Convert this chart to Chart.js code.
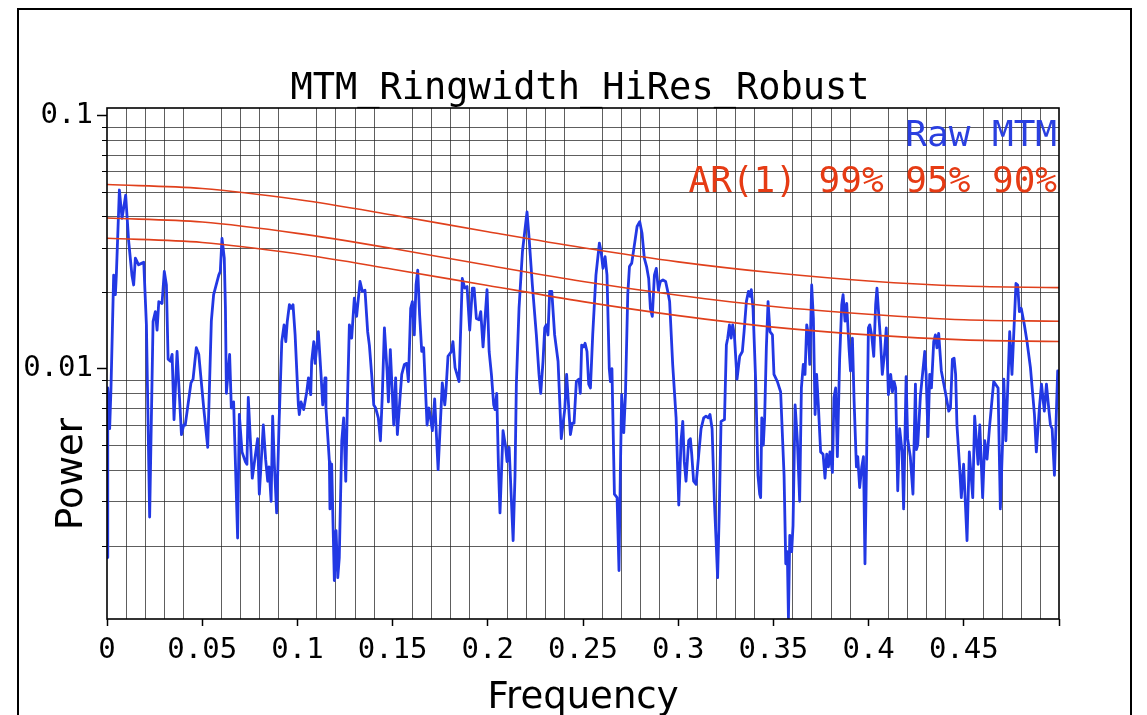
<!DOCTYPE html>
<html><head><meta charset="utf-8">
<script src="https://cdn.jsdelivr.net/npm/chart.js@4.4.1/dist/chart.umd.min.js"></script>
<style>html,body{margin:0;padding:0;background:#fff;overflow:hidden}#wrap{width:1147px;height:715px;position:relative}</style>
</head><body><div id="wrap"><canvas id="c"></canvas></div>
<script>
const chartTitle = 'MTM_Ringwidth_HiRes_Robust';
const xAxisTitle = 'Frequency';
const yAxisTitle = 'Power';
const legendBlue = 'Raw MTM';
const legendRed = 'AR(1) 99% 95% 90%';

const freq = [
0.0000,0.0004,0.0014,0.0021,0.0035,0.0044,0.0049,0.0065,0.0079,0.0098,0.0114,0.0131,0.0140,0.0149,0.0166,0.0184,0.0193,0.0207,0.0224,0.0242,
0.0254,0.0263,0.0272,0.0289,0.0301,0.0312,0.0321,0.0333,0.0342,0.0352,0.0368,0.0391,0.0403,0.0411,0.0441,0.0452,0.0469,0.0482,0.0508,0.0529,
0.0548,0.0560,0.0587,0.0595,0.0604,0.0616,0.0622,0.0627,0.0644,0.0653,0.0665,0.0686,0.0695,0.0709,0.0727,0.0735,0.0742,0.0763,0.0791,0.0800,
0.0821,0.0833,0.0844,0.0851,0.0862,0.0870,0.0879,0.0891,0.0904,0.0918,0.0930,0.0939,0.0947,0.0958,0.0967,0.0977,0.0988,0.1005,0.1010,0.1019,
0.1033,0.1049,0.1058,0.1070,0.1075,0.1086,0.1093,0.1110,0.1124,0.1133,0.1145,0.1150,0.1168,0.1171,0.1180,0.1194,0.1203,0.1212,0.1220,0.1233,
0.1243,0.1254,0.1264,0.1273,0.1285,0.1299,0.1311,0.1329,0.1341,0.1355,0.1369,0.1378,0.1390,0.1401,0.1411,0.1425,0.1436,0.1446,0.1457,0.1471,
0.1478,0.1488,0.1506,0.1516,0.1525,0.1539,0.1548,0.1562,0.1574,0.1583,0.1595,0.1604,0.1614,0.1623,0.1632,0.1642,0.1653,
0.1663,0.1681,0.1691,0.1709,0.1721,0.1739,0.1761,0.1774,0.1779,0.1791,0.1809,0.1817,0.1828,0.1849,0.1866,0.1879,0.1891,0.1905,0.1919,0.1928,
0.1940,0.1954,0.1963,0.1975,0.1996,0.2007,0.2019,0.2031,0.2038,0.2047,0.2056,0.2064,0.2080,0.2094,0.2101,0.2112,0.2133,0.2143,0.2150,0.2164,
0.2182,0.2206,0.2217,0.2234,0.2255,0.2269,0.2278,0.2290,0.2299,0.2307,0.2316,0.2325,0.2336,0.2351,0.2369,0.2386,0.2404,0.2414,0.2434,0.2444,
0.2453,0.2465,0.2479,0.2486,0.2493,
0.2504,0.2511,0.2521,0.2530,0.2539,0.2551,0.2568,0.2586,0.2595,0.2605,0.2616,0.2626,0.2638,0.2644,0.2652,0.2665,0.2679,0.2689,0.2696,0.2703,
0.2714,0.2723,0.2735,0.2744,0.2756,0.2770,0.2784,0.2798,0.2810,0.2822,0.2834,0.2845,0.2854,0.2864,0.2875,0.2885,0.2896,0.2906,0.2920,0.2934,
0.2945,0.2955,0.2971,0.2989,0.3003,0.3015,0.3024,0.3032,0.3041,0.3055,0.3064,0.3071,0.3081,0.3094,0.3102,0.3120,0.3134,0.3146,0.3158,0.3167,
0.3178,0.3190,0.3199,0.3207,0.3216,0.3225,0.3243,0.3253,0.3260,0.3269,0.3278,0.3286,0.3295,0.3309,
0.3323,0.3337,0.3346,0.3358,0.3369,0.3377,0.3384,0.3393,0.3407,0.3419,0.3428,0.3433,0.3439,0.3447,0.3454,0.3463,0.3472,0.3482,0.3495,0.3503,
0.3521,0.3538,0.3556,0.3565,0.3573,0.3579,0.3586,0.3596,0.3603,0.3614,0.3626,0.3638,0.3647,0.3657,0.3666,0.3675,0.3684,0.3691,0.3701,0.3710,
0.3719,0.3727,0.3736,0.3748,0.3761,0.3771,0.3780,0.3789,0.3797,0.3810,0.3818,0.3827,0.3836,0.3848,0.3859,0.3866,0.3876,0.3885,0.3897,0.3905,
0.3915,0.3924,0.3936,0.3943,0.3953,0.3964,0.3973,0.3981,0.3990,0.3999,0.4006,0.4016,0.4027,0.4037,0.4044,0.4051,0.4062,0.4072,0.4083,0.4093,
0.4104,0.4116,0.4125,0.4134,0.4142,0.4153,
0.4163,0.4176,0.4184,0.4197,0.4205,0.4219,0.4233,0.4246,0.4251,0.4258,0.4272,0.4295,0.4302,0.4312,0.4321,0.4330,0.4342,0.4351,0.4359,0.4368,
0.4382,0.4403,0.4421,0.4430,0.4440,0.4449,0.4457,0.4464,0.4478,0.4487,0.4499,0.4517,0.4529,0.4547,0.4557,0.4575,0.4584,0.4599,0.4610,0.4622,
0.4636,0.4657,0.4680,0.4692,0.4704,0.4710,0.4721,0.4741,0.4753,0.4774,0.4783,0.4792,0.4802,0.4818,0.4832,0.4850,0.4871,0.4881,0.4897,0.4908,
0.4923,0.4934,0.4946,0.4955,0.4964,0.4976,0.4993,0.5000
];
const power = [
0.0018,0.0084,0.0058,0.0084,0.0234,0.0196,0.0234,0.0507,0.0392,0.0484,0.0317,0.0234,0.0214,0.0273,0.0257,0.0261,0.0263,0.0149,0.0026,0.0154,
0.0168,0.0142,0.0184,0.0181,0.0242,0.0214,0.0109,0.0107,0.0114,0.0063,0.0117,0.0055,0.0060,0.0060,0.0088,0.0091,0.0121,0.0114,0.0070,0.0049,
0.0154,0.0196,0.0234,0.0242,0.0327,0.0273,0.0173,0.0080,0.0114,0.0070,0.0074,0.00215,0.0066,0.0047,0.0043,0.0042,0.0077,0.0037,0.0053,0.0032,
0.0060,0.0044,0.0036,0.0041,0.0030,0.0065,0.0042,0.0027,0.0062,0.0128,0.0149,0.0128,0.0154,0.0179,0.0173,0.0179,0.0136,0.0072,0.0066,0.0074,
0.0069,0.0081,0.0092,0.0079,0.0107,0.0128,0.0105,0.0140,0.0095,0.0072,0.0092,0.0070,0.0043,0.0028,0.0042,0.00146,0.0023,0.0015,0.0018,0.0052,
0.0064,0.0036,0.0081,0.0149,0.0132,0.0190,0.0161,0.0221,0.0202,0.0204,0.0140,0.0124,0.0095,0.0072,0.0070,0.0064,0.0052,0.0079,0.0145,0.0098,
0.0074,0.0119,0.0060,0.0092,0.0055,0.0077,0.0095,0.0104,0.0105,0.0089,0.0173,0.0184,0.0136,0.0214,0.0245,0.0163,0.0117,
0.0121,0.0060,0.0070,0.0057,0.0076,0.0040,0.0088,0.0072,0.0079,0.0112,0.0117,0.0128,0.0101,0.0089,0.0227,0.0208,0.0211,0.0142,0.0208,0.0208,
0.0158,0.0156,0.0168,0.0122,0.0205,0.0117,0.0095,0.0072,0.0069,0.0080,0.0041,0.0027,0.0057,0.0049,0.0043,0.0049,0.0021,0.0038,0.0087,0.0173,
0.0290,0.0416,0.0327,0.0214,0.0136,0.0095,0.0080,0.0107,0.0145,0.0149,0.0136,0.0202,0.0202,0.0136,0.0107,0.0053,0.0069,0.0095,0.0055,0.0061,
0.0061,0.0089,0.0091,0.0080,0.0124,
0.0122,0.0126,0.0117,0.0087,0.0084,0.0136,0.0234,0.0313,0.0290,0.0249,0.0277,0.0234,0.0100,0.0089,0.0100,0.0032,0.0031,0.0016,0.0038,0.0079,
0.0056,0.0079,0.0196,0.0253,0.0261,0.0308,0.0364,0.0380,0.0342,0.0273,0.0253,0.0227,0.0173,0.0161,0.0234,0.0249,0.0204,0.0221,0.0224,0.0221,
0.0202,0.0184,0.0104,0.0064,0.0029,0.0052,0.0062,0.0043,0.0036,0.0052,0.0053,0.0046,0.0036,0.0035,0.0041,0.0058,0.0064,0.0065,0.0064,0.0066,
0.0058,0.0030,0.0021,0.0015,0.0028,0.0062,0.0063,0.0124,0.0132,0.0149,0.0132,0.0149,0.0136,0.0091,
0.0112,0.0117,0.0140,0.0184,0.0202,0.0193,0.0205,0.0173,0.0089,0.0038,0.0032,0.0031,0.0064,0.0050,0.0064,0.0121,0.0184,0.0140,0.0136,0.0095,
0.0089,0.0081,0.0038,0.0017,0.0019,0.00104,0.0022,0.0019,0.0024,0.0072,0.0052,0.0030,0.0084,0.0104,0.0095,0.0149,0.0136,0.0104,0.0214,0.0158,
0.0066,0.0095,0.0072,0.0047,0.0046,0.0037,0.0046,0.0041,0.0047,0.0039,0.0077,0.0084,0.0045,0.0110,0.0179,0.0196,0.0154,0.0181,0.0121,0.0098,
0.0132,0.0074,0.0041,0.0045,0.0034,0.0041,0.0045,0.0017,0.0047,0.0145,0.0149,0.0136,0.0112,0.0179,0.0208,0.0173,0.0132,0.0095,0.0114,0.0145,
0.0079,0.0095,0.0081,0.0089,0.0084,0.0033,
0.0058,0.0047,0.0028,0.0093,0.0053,0.0045,0.0032,0.0087,0.0048,0.0050,0.0078,0.0117,0.0095,0.0054,0.0095,0.0084,0.0128,0.0136,0.0121,0.0138,
0.0098,0.0081,0.0068,0.0070,0.0109,0.0110,0.0095,0.0060,0.0041,0.0031,0.0042,0.0021,0.0047,0.0031,0.0065,0.0042,0.0060,0.0031,0.0052,0.0044,
0.0060,0.0089,0.0084,0.0028,0.0052,0.0091,0.0052,0.0140,0.0095,0.0217,0.0214,0.0168,0.0173,0.0149,0.0128,0.0101,0.0066,0.0047,0.0070,0.0087,
0.0068,0.0087,0.0070,0.0060,0.0058,0.0038,0.0098,0.0098
];

const arFreq = [0, 0.05, 0.1, 0.15, 0.2, 0.25, 0.3, 0.35, 0.4, 0.45, 0.5];
const ar99 = [0.0533, 0.0514, 0.0465, 0.0404, 0.0347, 0.0300, 0.0264, 0.0239, 0.0222, 0.0212, 0.0209];
const ar95 = [0.0393, 0.0379, 0.0342, 0.0298, 0.0256, 0.0221, 0.0195, 0.0176, 0.0164, 0.0156, 0.0154];
const ar90 = [0.0327, 0.0315, 0.0284, 0.0247, 0.0213, 0.0184, 0.0162, 0.0146, 0.0136, 0.0130, 0.0128];

const xMajorTicks = [0, 0.05, 0.1, 0.15, 0.2, 0.25, 0.3, 0.35, 0.4, 0.45, 0.5];
const xMajorLabels = ['0', '0.05', '0.1', '0.15', '0.2', '0.25', '0.3', '0.35', '0.4', '0.45', ''];
const yMinorTicks = [0.002,0.003,0.004,0.005,0.006,0.007,0.008,0.009,0.02,0.03,0.04,0.05,0.06,0.07,0.08,0.09];
const yMajorTicks = [0.01, 0.1];
const yMajorLabels = ['0.01', '0.1'];

const BLUE = '#2238e4';
const RED = '#e0401c';
const GRID = 'rgba(40,40,40,0.75)';
const MONO = "'DejaVu Sans Mono', monospace";
const SANS = "'DejaVu Sans', sans-serif";

const isXMajor = v => xMajorTicks.some(t => Math.abs(t - v) < 1e-7);
const isYMajor = v => yMajorTicks.some(t => Math.abs(t - v) / t < 1e-6);
const pts = (xs, ys) => xs.map((x, i) => ({x: x, y: ys[i]}));

const decor = {
  id: 'decor',
  beforeDraw(chart) {
    const c = chart.ctx;
    c.save(); c.fillStyle = '#fff'; c.fillRect(0, 0, chart.width, chart.height); c.restore();
  },
  beforeDatasetsDraw(chart) {
    const c = chart.ctx, a = chart.chartArea, xs = chart.scales.x, ys = chart.scales.y;
    c.save();
    c.strokeStyle = GRID; c.lineWidth = 1;
    xs.ticks.forEach(t => {
      if (isXMajor(t.value)) return;
      const px = Math.round(xs.getPixelForValue(t.value)) + 0.5;
      c.beginPath(); c.moveTo(px, a.top); c.lineTo(px, a.bottom); c.stroke();
    });
    yMinorTicks.forEach(v => {
      const py = Math.round(ys.getPixelForValue(v)) + 0.5;
      c.beginPath(); c.moveTo(a.left, py); c.lineTo(a.right, py); c.stroke();
    });
    c.restore();
  },
  afterDraw(chart) {
    const c = chart.ctx, a = chart.chartArea, ys = chart.scales.y;
    c.save();
    c.strokeStyle = '#000'; c.lineWidth = 2;
    c.beginPath(); c.moveTo(18, 716); c.lineTo(18, 9); c.lineTo(1131, 9); c.lineTo(1131, 716); c.stroke();
    c.lineWidth = 1.6;
    c.strokeRect(a.left, a.top, a.right - a.left, a.bottom - a.top);
    c.lineWidth = 1;
    yMinorTicks.forEach(v => {
      const py = Math.round(ys.getPixelForValue(v)) + 0.5;
      c.beginPath(); c.moveTo(a.left - 5, py); c.lineTo(a.left, py); c.stroke();
    });
    c.fillStyle = '#000';
    c.font = "37px " + MONO;
    c.textAlign = 'center'; c.textBaseline = 'alphabetic';
    c.fillText(chartTitle, 580, 99);
    c.font = "37px " + SANS;
    c.fillText(xAxisTitle, (a.left + a.right) / 2, 708);
    c.save();
    c.translate(82, 474); c.rotate(-Math.PI / 2);
    c.fillText(yAxisTitle, 0, 0);
    c.restore();
    c.textAlign = 'right';
    c.font = "36px " + MONO;
    c.fillStyle = '#2a3fe0';
    c.fillText(legendBlue, a.right - 2, 146);
    c.fillStyle = '#e63b14';
    c.fillText(legendRed, a.right - 2, 192);
    c.restore();
  }
};

new Chart(document.getElementById('c'), {
  type: 'line',
  data: {
    datasets: [
      {label: 'AR(1) 99%', data: pts(arFreq, ar99), borderColor: RED, borderWidth: 1.6, pointRadius: 0, cubicInterpolationMode: 'monotone', fill: false},
      {label: 'AR(1) 95%', data: pts(arFreq, ar95), borderColor: RED, borderWidth: 1.6, pointRadius: 0, cubicInterpolationMode: 'monotone', fill: false},
      {label: 'AR(1) 90%', data: pts(arFreq, ar90), borderColor: RED, borderWidth: 1.6, pointRadius: 0, cubicInterpolationMode: 'monotone', fill: false},
      {label: 'Raw MTM', data: pts(freq, power), borderColor: BLUE, borderWidth: 2.8, pointRadius: 0, tension: 0, fill: false, borderJoinStyle: 'round'}
    ]
  },
  options: {
    responsive: true, maintainAspectRatio: false, animation: false, devicePixelRatio: 1,
    layout: {padding: {left: 0, right: 88, top: 108, bottom: 0}},
    plugins: {legend: {display: false}, title: {display: false}, tooltip: {enabled: false}},
    scales: {
      x: {
        type: 'linear', min: 0, max: 0.5,
        afterFit: s => { s.height = 96; },
        border: {display: false},
        grid: {
          drawOnChartArea: false, drawTicks: true, tickLength: 7, tickWidth: 1.5,
          tickColor: ctx => (ctx.tick && isXMajor(ctx.tick.value)) ? '#000' : 'rgba(0,0,0,0)'
        },
        ticks: {
          stepSize: 0.01, autoSkip: false, maxRotation: 0, minRotation: 0, padding: 7,
          color: '#000', font: {family: MONO, size: 29},
          callback: v => { const i = xMajorTicks.findIndex(t => Math.abs(t - v) < 1e-7); return i >= 0 ? xMajorLabels[i] : ''; }
        }
      },
      y: {
        type: 'logarithmic', min: 0.00103, max: 0.1068,
        afterFit: s => { s.width = 107; },
        afterBuildTicks: s => { s.ticks = yMinorTicks.concat(yMajorTicks).sort((p, q) => p - q).map(v => ({value: v})); },
        border: {display: false},
        grid: {
          drawOnChartArea: false, drawTicks: true, tickLength: 10, tickWidth: 1.5,
          tickColor: ctx => (ctx.tick && isYMajor(ctx.tick.value)) ? '#000' : 'rgba(0,0,0,0)'
        },
        ticks: {
          autoSkip: false, padding: 4, color: '#000', font: {family: MONO, size: 29},
          callback: v => { const i = yMajorTicks.findIndex(t => Math.abs(t - v) / t < 1e-6); return i >= 0 ? yMajorLabels[i] : ''; }
        }
      }
    }
  },
  plugins: [decor]
});
</script>
</body></html>
